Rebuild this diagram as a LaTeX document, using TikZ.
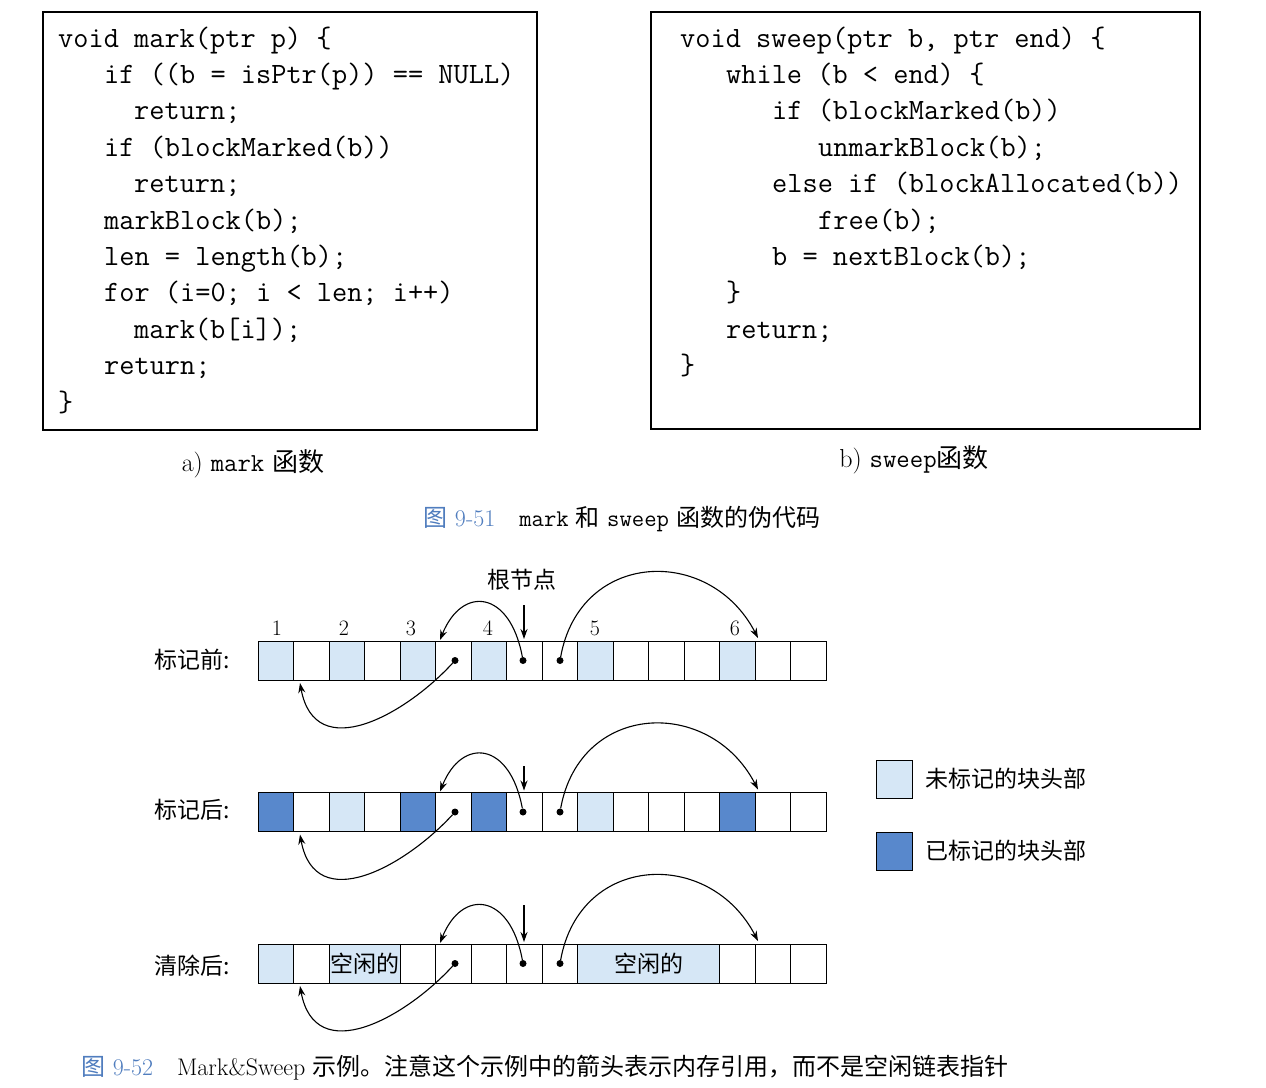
\documentclass[tikz,border=0pt]{standalone}
\usepackage{fontspec}
\newfontfamily\cjk{Noto Sans CJK SC}
\usetikzlibrary{arrows.meta}
\definecolor{lite}{RGB}{214,231,246}
\definecolor{dark}{RGB}{88,136,204}
\definecolor{capblue}{RGB}{80,125,190}
\tikzset{
  cell/.style={draw, line width=1pt, minimum width=35.5pt, minimum height=39pt, inner sep=0pt},
  code/.style={anchor=base west, inner sep=0pt, font=\fontsize{29.5}{32}\selectfont\ttfamily},
  zh/.style={font=\fontsize{23}{26}\selectfont\cjk},
  ptr/.style={-{Stealth[length=10pt,width=7pt]}, line width=1.1pt},
  dot/.style={circle, fill, inner sep=0pt, minimum size=7pt}
}
\newcommand{\cl}[3]{\node[code] at ({#1},{47+36.4*#2}) {#3};}
\begin{document}
\begin{tikzpicture}[x=1pt,y=-1pt]
  \useasboundingbox (0,0) rectangle (1266,1087);

  % mark
  \draw[line width=1.2pt] (43,12) rectangle (537,430);
  \cl{58}{0}{void mark(ptr p) \{}
  \cl{104}{1}{if ((b = isPtr(p)) == NULL)}
  \cl{134}{2}{return;}
  \cl{104}{3}{if (blockMarked(b))}
  \cl{134}{4}{return;}
  \cl{104}{5}{markBlock(b);}
  \cl{104}{6}{len = length(b);}
  \cl{104}{7}{for (i=0; i < len; i++)}
  \cl{134}{8}{mark(b[i]);}
  \cl{104}{9}{return;}
  \cl{58}{10}{\}}
  \node[font=\fontsize{26}{28}\selectfont] (capa) at (253,464) {a) \texttt{mark} {\cjk 函数}};

  % sweep
  \draw[line width=1.2pt] (651,12) rectangle (1200,429);
  \cl{680}{0}{void sweep(ptr b, ptr end) \{}
  \cl{726}{1}{while (b < end) \{}
  \cl{772}{2}{if (blockMarked(b))}
  \cl{818}{3}{unmarkBlock(b);}
  \cl{772}{4}{else if (blockAllocated(b))}
  \cl{818}{5}{free(b);}
  \cl{772}{6}{b = nextBlock(b);}
  \cl{726}{7}{\}}
  \cl{726}{8}{return;}
  \cl{680}{9}{\}}
  \node[font=\fontsize{26}{28}\selectfont] (capb) at (914,460) {b) \texttt{sweep}{\cjk 函数}};

  \node[font=\fontsize{24}{26}\selectfont] (fig51) at (622,519)
    {\textcolor{capblue}{\cjk 图} \textcolor{capblue}{9-51}\quad \texttt{mark} {\cjk 和} \texttt{sweep} {\cjk 函数的伪代码}};

  % rows
  \foreach \i/\f in {0/lite,1/white,2/lite,3/white,4/lite,5/white,6/lite,7/white,8/white,9/lite,10/white,11/white,12/white,13/lite,14/white,15/white}
    \node[cell, fill=\f] (a\i) at ({275.75+35.5*\i},660.5) {};
  \foreach \i/\f in {0/dark,1/white,2/lite,3/white,4/dark,5/white,6/dark,7/white,8/white,9/lite,10/white,11/white,12/white,13/dark,14/white,15/white}
    \node[cell, fill=\f] (b\i) at ({275.75+35.5*\i},812) {};
  \foreach \i/\f in {0/lite,1/white,4/white,5/white,6/white,7/white,8/white,13/white,14/white,15/white}
    \node[cell, fill=\f] (c\i) at ({275.75+35.5*\i},963.5) {};
  \node[cell, fill=lite, minimum width=71pt, zh] (free1) at (364.5,963.5) {空闲的};
  \node[cell, fill=lite, minimum width=142pt, zh] (free2) at (648.5,963.5) {空闲的};

  \node[zh] (l1) at (192,660) {标记前:};
  \node[zh] (l2) at (192,810) {标记后:};
  \node[zh] (l3) at (192,966) {清除后:};

  \foreach \n/\x in {1/277,2/344,3/411,4/488,5/595,6/735}
    \node[font=\fontsize{22}{24}\selectfont] (n\n) at (\x,628) {\n};
  \node[zh] (root) at (522,580) {根节点};

  % pointers
  \foreach \r/\dy/\tp in {a/0/605, b/151.5/766, c/303/905}{
    \node[dot] (\r s) at ({455},{660.5+\dy}) {};
    \node[dot] (\r m) at ({523},{660.5+\dy}) {};
    \node[dot] (\r t) at ({560},{660.5+\dy}) {};
    \coordinate (\r one) at (300,{683+\dy});
    \coordinate (\r five) at (440,{640+\dy});
    \coordinate (\r end) at (758,{638+\dy});
    \coordinate (\r top) at (524,\tp);
    \coordinate (\r hit) at (524,{639+\dy});
    \draw[ptr] (\r s) .. controls (405,{715+\dy}) and (315,{765+\dy}) .. (\r one);
    \draw[ptr] (\r m) .. controls (510,{590+\dy}) and (462,{585+\dy}) .. (\r five);
    \draw[ptr] (\r t) .. controls (580,{550+\dy}) and (710,{545+\dy}) .. (\r end);
    \draw[ptr] (\r top) -- (\r hit);
  }

  % legend
  \node[cell, fill=lite, minimum width=36pt, minimum height=38pt] (k1) at (894,779) {};
  \node[cell, fill=dark, minimum width=36pt, minimum height=38pt] (k2) at (894,851) {};
  \node[zh, anchor=west] (t1) at (922,779) {未标记的块头部};
  \node[zh, anchor=west] (t2) at (922,851) {已标记的块头部};

  \node[anchor=west, font=\fontsize{24}{26}\selectfont] (fig52) at (78,1068)
    {\textcolor{capblue}{\cjk 图} \textcolor{capblue}{9-52}\quad Mark\&Sweep {\cjk 示例。注意这个示例中的箭头表示内存引用，而不是空闲链表指针}};
\end{tikzpicture}
\end{document}
